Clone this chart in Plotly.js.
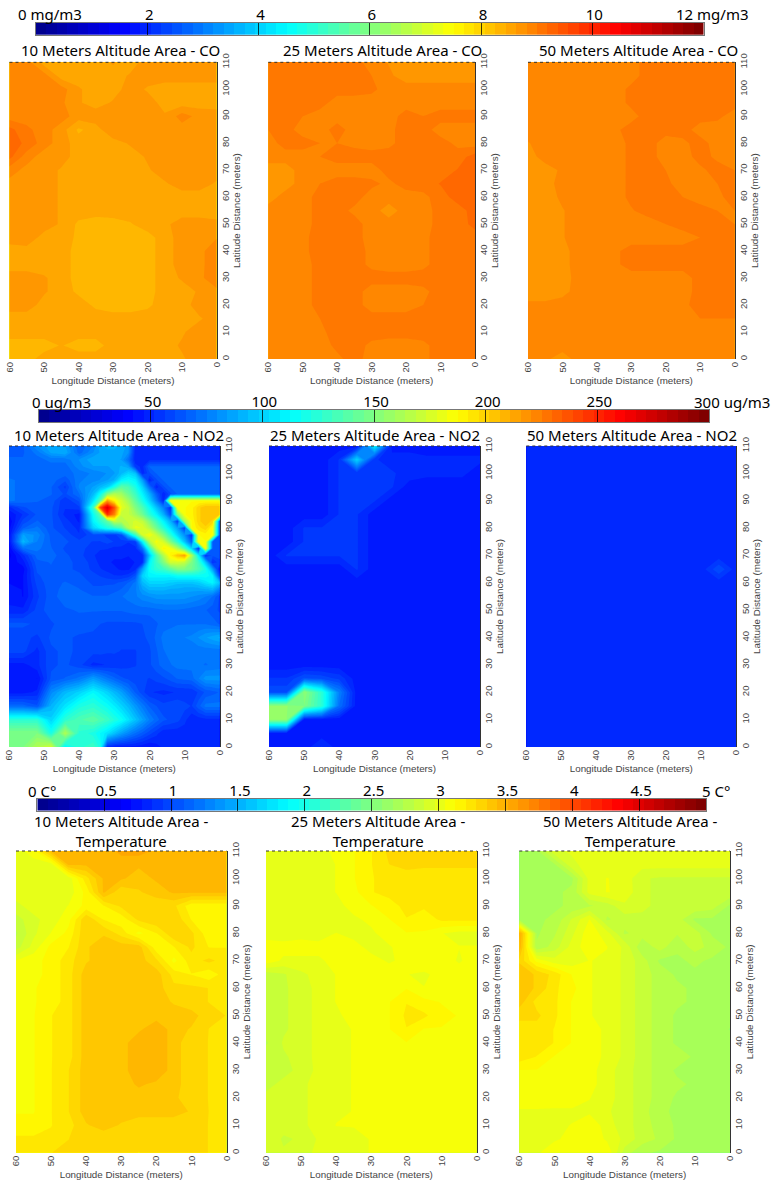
<!DOCTYPE html>
<html><head><meta charset="utf-8">
<script src="https://cdn.plot.ly/plotly-3.0.1.min.js"></script>
<style>html,body{margin:0;padding:0;background:#fff}</style></head>
<body><div id="chart" style="width:774px;height:1185px"></div>
<script>
const lonGrid=[60,55,50,45,40,35,30,25,20,15,10,5,0];
const latGrid=[110,105,100,95,90,85,80,75,70,65,60,55,50,45,40,35,30,25,20,15,10,5,0];
const lonFine=[60,56,52,48,44,40,36,34,32,30,28,26,24,22,20,18,16,14,12,10,8,6,4,2,0];
const latFine=[110,107.5,105,102.5,100,97.5,95,92.5,90,87.5,85,82.5,80,77.5,75,72.5,70,67.5,65,62.5,60,57.5,55,50,45,40,35,30,25,20,15,10,5,0];

const co10=[
[8.9,8.9,8.53,8.53,8.53,8.53,8.65,8.53,8.72,8.72,8.72,8.72,8.72],
[8.9,8.9,8.9,8.53,8.53,8.53,8.53,8.65,8.72,8.72,8.72,8.72,8.72],
[8.9,8.9,8.9,8.9,8.65,8.53,8.53,8.72,8.6,8.53,8.53,8.53,8.53],
[8.9,8.9,8.9,8.85,8.65,8.53,8.65,8.72,8.72,8.55,8.53,8.53,8.53],
[8.9,8.9,8.9,8.9,8.72,8.75,8.72,8.72,8.72,8.65,8.9,8.75,8.72],
[9.25,9.05,8.9,8.72,8.4,8.53,8.8,8.72,8.72,8.72,8.72,8.72,8.72],
[9.28,9.15,8.9,8.72,8.53,8.53,8.53,8.65,8.75,8.72,8.72,8.72,8.72],
[9.25,8.9,8.72,8.72,8.53,8.53,8.53,8.53,8.65,8.72,8.72,8.72,8.72],
[8.9,8.75,8.72,8.6,8.53,8.53,8.53,8.53,8.6,8.72,8.72,8.72,8.72],
[8.75,8.75,8.72,8.6,8.53,8.53,8.53,8.53,8.53,8.6,8.72,8.72,8.6],
[8.8,8.8,8.72,8.6,8.53,8.53,8.53,8.53,8.53,8.53,8.53,8.53,8.53],
[8.75,8.8,8.72,8.6,8.53,8.53,8.53,8.53,8.53,8.53,8.53,8.53,8.45],
[8.75,8.8,8.72,8.6,8.4,8.33,8.36,8.42,8.53,8.58,8.72,8.72,8.72],
[8.72,8.75,8.55,8.53,8.4,8.33,8.33,8.33,8.36,8.53,8.72,8.72,8.8],
[8.53,8.55,8.53,8.53,8.36,8.33,8.33,8.33,8.36,8.53,8.72,8.75,8.95],
[8.53,8.53,8.53,8.53,8.36,8.33,8.33,8.33,8.36,8.53,8.72,8.75,8.95],
[8.72,8.72,8.65,8.53,8.36,8.33,8.33,8.33,8.36,8.53,8.65,8.75,8.98],
[8.72,8.72,8.65,8.53,8.4,8.33,8.33,8.33,8.36,8.53,8.53,8.65,8.75],
[8.72,8.72,8.55,8.53,8.53,8.4,8.33,8.33,8.4,8.53,8.53,8.72,8.72],
[8.53,8.53,8.53,8.53,8.53,8.53,8.53,8.53,8.53,8.53,8.53,8.6,8.72],
[8.53,8.53,8.53,8.53,8.53,8.53,8.53,8.53,8.53,8.53,8.6,8.72,8.72],
[8.35,8.35,8.35,8.45,8.35,8.35,8.53,8.55,8.55,8.55,8.65,8.72,8.72],
[8.35,8.35,8.53,8.6,8.55,8.55,8.6,8.55,8.55,8.55,8.6,8.72,8.72]];

const co25=[
[9.09,9.09,9.09,9.09,9.09,9.09,8.9,8.8,8.72,8.72,8.72,8.72,8.72],
[9.09,9.09,9.09,9.09,9.09,9.09,9.0,8.85,8.72,8.72,8.72,8.72,8.72],
[9.09,9.09,9.09,9.09,9.09,9.09,9.05,8.9,8.9,8.9,8.9,8.9,8.9],
[9.09,9.09,9.09,9.09,8.9,8.9,8.9,8.9,8.9,8.9,8.9,8.9,8.9],
[9.09,9.09,9.0,8.9,8.9,8.9,8.9,8.9,9.09,9.0,9.09,9.09,9.09],
[9.0,9.09,8.9,8.9,9.09,8.9,8.9,8.95,9.09,9.09,8.9,8.9,8.9],
[8.9,9.09,9.09,9.0,9.0,8.95,8.9,8.95,9.09,9.09,9.09,8.95,8.9],
[8.9,8.9,8.9,9.0,9.09,9.09,9.09,9.09,9.09,9.09,9.09,9.09,9.28],
[8.72,8.72,8.9,8.9,8.9,8.9,8.9,9.09,9.09,9.09,9.09,9.2,9.28],
[8.72,8.72,8.9,9.0,9.09,9.09,9.05,8.95,9.09,9.09,9.2,9.2,9.28],
[8.72,8.9,8.9,9.09,9.09,9.09,8.9,8.9,8.9,8.95,9.09,9.28,9.28],
[8.9,8.9,8.9,9.09,9.09,8.95,8.9,8.72,8.9,8.9,9.09,9.09,9.28],
[8.9,8.9,8.9,9.09,9.09,9.09,8.9,8.9,8.9,8.9,9.09,9.09,9.25],
[8.9,8.9,8.95,9.09,9.09,9.09,8.9,8.9,8.9,8.95,9.09,9.09,9.09],
[8.9,8.9,8.95,9.09,9.09,9.09,8.95,8.9,8.9,8.95,9.09,9.09,9.09],
[8.9,8.9,8.9,9.09,9.09,9.09,8.95,8.9,8.9,8.95,9.09,9.09,9.09],
[8.9,8.9,8.9,9.09,9.09,9.09,9.09,9.09,9.09,9.09,9.09,9.09,9.09],
[8.9,8.9,8.9,9.09,9.09,9.09,8.9,8.9,8.9,8.95,9.09,9.09,9.09],
[8.9,8.9,8.9,9.09,9.09,9.09,8.9,8.9,8.9,9.0,9.09,9.09,9.09],
[8.9,8.9,8.9,9.0,9.09,9.09,9.09,9.09,9.09,9.09,9.09,9.09,9.09],
[8.9,8.9,8.9,8.95,9.09,9.09,9.09,9.09,9.09,9.09,9.09,9.09,9.09],
[8.9,8.9,8.9,8.9,9.05,9.09,8.95,8.9,8.9,8.95,9.09,9.09,9.09],
[8.9,8.9,8.9,8.9,8.95,9.09,8.9,8.9,8.9,8.95,9.09,9.09,9.09]];

const co50=[
[8.9,8.9,8.9,8.9,8.9,8.9,8.92,9.09,9.09,9.09,9.09,9.09,9.09],
[8.9,8.9,8.9,8.9,8.9,8.9,8.92,9.09,9.09,9.09,9.09,9.09,9.09],
[8.9,8.9,8.9,8.9,8.9,8.9,9.05,9.09,9.09,9.09,9.09,9.09,9.09],
[8.9,8.9,8.9,8.9,8.9,8.9,9.05,9.09,9.09,9.09,9.09,9.09,9.09],
[8.9,8.9,8.9,8.9,8.9,8.9,8.93,9.09,9.09,9.09,9.09,9.05,8.9],
[8.9,8.9,8.9,8.9,8.9,8.95,9.09,9.09,9.09,9.09,8.9,8.9,8.9],
[8.8,8.9,8.9,8.9,8.9,8.9,9.05,9.09,8.9,8.95,9.09,8.9,8.9],
[8.72,8.9,8.9,8.9,8.9,8.9,9.05,9.09,8.9,8.9,9.09,8.95,8.9],
[8.72,8.72,8.85,8.9,8.9,8.9,9.05,9.09,9.0,8.9,8.95,9.09,9.0],
[8.72,8.72,8.9,8.9,8.9,8.9,9.05,9.09,9.05,8.9,8.9,9.0,9.09],
[8.72,8.72,8.85,8.9,8.9,8.9,9.05,9.09,9.09,9.0,8.9,8.95,9.09],
[8.72,8.72,8.8,8.9,8.9,8.9,8.98,9.09,9.09,9.09,9.09,9.0,9.0],
[8.72,8.72,8.8,8.9,8.9,8.9,8.9,8.9,9.0,9.09,9.09,9.09,9.0],
[8.72,8.72,8.8,8.9,8.9,8.9,8.9,8.9,8.9,8.9,9.0,9.09,9.09],
[8.72,8.72,8.75,8.9,8.9,8.95,9.09,9.09,9.09,9.09,9.09,9.09,9.09],
[8.72,8.72,8.75,8.9,8.9,8.95,9.09,9.09,9.09,9.09,9.09,9.09,9.09],
[8.72,8.72,8.72,8.9,8.9,8.9,8.9,8.9,8.9,8.9,9.09,9.09,9.09],
[8.72,8.72,8.75,8.9,8.9,8.9,8.9,8.9,8.9,8.9,9.09,9.09,9.09],
[8.85,8.85,8.9,8.9,8.9,8.9,8.9,8.9,8.9,8.95,9.09,9.09,9.09],
[8.9,8.9,8.9,8.9,8.9,8.9,8.9,8.9,8.9,8.9,9.0,9.0,9.0],
[8.9,8.9,8.9,8.9,8.9,8.9,8.9,8.9,8.9,8.9,8.9,8.9,8.9],
[8.9,8.9,8.9,8.9,8.9,8.9,8.9,8.9,8.9,8.9,8.9,8.9,8.9],
[8.9,8.85,8.72,8.9,8.9,8.9,8.9,8.9,8.9,8.9,8.9,8.9,8.9]];

const no210=[
[65,65,80,88,85,66,75,88,90,90,88,82,50,50,50,50,50,50,50,50,50,50,50,50,50],
[65,65,72,85,88,68,80,85,88,88,86,80,48,48,48,50,50,50,50,50,50,50,50,50,50],
[66,66,68,72,72,80,88,88,88,86,84,70,48,50,50,50,50,50,50,50,50,50,50,50,50],
[66,66,66,68,68,78,84,84,84,86,90,85,54,50,66,66,66,66,66,66,66,66,66,66,66],
[66,66,66,68,68,72,76,78,80,84,92,102,95,48,60,66,66,66,66,66,66,66,66,66,66],
[72,68,68,68,62,74,78,80,84,90,110,115,110,85,48,60,66,66,66,66,66,66,66,66,66],
[72,68,68,66,55,76,85,92,100,120,140,135,120,100,70,48,60,66,66,66,66,66,66,66,66],
[72,68,68,66,60,70,92,115,150,165,160,145,130,110,90,65,48,60,66,66,66,66,66,66,66],
[72,68,66,64,52,62,105,140,215,190,175,160,140,120,100,75,48,187,187,187,187,187,187,187,187],
[50,60,64,62,52,55,130,240,275,240,180,170,150,135,115,95,75,50,187,187,190,200,206,206,206],
[42,52,62,62,50,45,115,140,250,225,170,170,160,145,125,110,90,60,150,187,190,200,206,206,206],
[38,58,66,62,54,46,110,125,140,170,165,170,175,170,150,130,110,90,55,160,187,200,206,200,65],
[40,65,72,62,56,50,100,110,120,125,135,165,180,178,165,145,125,105,85,55,187,195,200,187,65],
[42,85,78,64,60,52,60,58,55,55,60,95,130,175,185,170,150,125,100,80,52,187,190,187,65],
[42,92,75,65,62,58,56,56,58,56,55,52,55,110,165,185,175,150,125,95,65,187,187,65,65],
[38,70,72,66,60,58,54,52,52,50,50,48,50,70,125,170,190,185,165,135,100,50,187,65,65],
[35,50,68,68,62,58,52,50,48,48,48,47,47,50,95,135,165,190,205,215,165,110,50,62,62],
[38,45,64,66,62,60,54,50,48,46,46,46,47,50,110,130,150,175,175,170,150,130,95,50,60],
[40,40,62,65,62,60,55,52,50,48,46,46,50,85,115,125,130,140,150,150,145,135,120,85,45],
[42,42,60,64,64,62,58,56,54,52,52,54,62,100,110,110,110,110,115,115,115,115,115,110,60],
[42,42,58,64,66,64,60,60,60,60,62,66,72,92,100,100,100,98,95,95,95,98,105,110,95],
[44,42,56,64,67,66,62,62,63,64,66,70,74,84,90,90,90,88,88,86,86,86,88,90,75],
[45,42,55,64,68,68,66,66,66,68,70,72,74,78,80,82,82,82,82,82,80,78,75,70,60],
[48,48,58,64,65,66,66,66,66,66,66,67,68,68,68,69,70,70,70,69,68,67,66,63,60],
[62,62,60,60,64,64,62,61,60,60,60,60,60,61,62,65,68,69,70,70,70,70,70,68,65],
[58,58,55,62,62,60,60,59,58,58,58,58,58,60,62,67,72,73,74,75,76,80,84,87,90],
[58,58,50,60,62,60,58,58,57,57,56,56,56,58,60,65,70,72,74,73,72,72,72,72,72],
[45,45,50,60,62,58,50,51,52,53,54,55,56,58,60,64,68,70,72,72,72,71,70,71,72],
[45,45,42,62,66,72,84,78,72,67,62,60,58,57,56,58,60,63,66,67,68,75,82,82,82],
[45,45,48,78,92,100,112,106,100,92,85,75,65,58,52,51,50,51,52,52,52,57,62,64,66],
[68,68,62,90,105,120,125,120,115,108,100,92,82,73,65,61,58,59,60,58,56,64,72,72,72],
[125,125,125,100,125,135,140,135,130,122,115,105,95,85,75,68,62,60,58,53,48,49,50,50,50],
[150,150,150,120,165,125,120,112,105,95,85,77,70,64,58,53,48,48,48,49,50,50,50,50,50],
[150,150,165,175,110,125,130,120,50,46,45,45,45,44,42,45,48,49,50,50,50,50,50,50,50]];

const no225=[
[44,44,44,44,44,44,110,44,44,44,44,44,44],
[44,44,44,44,52,100,52,50,50,48,48,48,48],
[44,44,44,44,52,52,52,52,50,48,48,48,44],
[44,44,44,44,52,52,52,52,44,44,44,44,44],
[44,44,44,44,52,52,52,44,44,44,44,44,44],
[44,44,44,44,52,52,44,44,44,44,44,44,44],
[44,44,52,52,52,52,44,44,44,44,44,44,44],
[44,44,52,52,52,52,44,44,44,44,44,44,44],
[44,52,52,52,52,52,44,44,44,44,44,44,44],
[44,44,44,44,44,52,44,44,44,44,44,44,44],
[44,44,44,44,44,44,44,44,44,44,44,44,44],
[44,44,44,44,44,44,44,44,44,44,44,44,44],
[44,44,44,44,44,44,44,44,44,44,44,44,44],
[44,44,44,44,44,44,44,44,44,44,44,44,44],
[44,44,44,44,44,44,44,44,44,44,44,44,44],
[44,44,44,44,44,44,44,44,44,44,44,44,44],
[44,44,44,44,44,44,44,44,44,44,44,44,44],
[52,52,62,60,55,44,44,44,44,44,44,44,44],
[60,60,155,125,75,44,44,44,44,44,44,44,44],
[155,155,150,125,70,44,44,44,44,44,44,44,44],
[155,155,44,44,44,44,44,44,44,44,44,44,44],
[44,44,44,44,44,44,44,44,44,44,44,44,44],
[44,44,44,52,44,44,44,44,44,44,44,44,44]];

const no250=[
[49,49,49,49,49,49,49,49,49,49,49,49,49],
[49,49,49,49,49,49,49,49,49,49,49,49,49],
[49,49,49,49,49,49,49,49,49,49,49,49,49],
[49,49,49,49,49,49,49,49,49,49,49,49,49],
[49,49,49,49,49,49,49,49,49,49,49,49,49],
[49,49,49,49,49,49,49,49,49,49,49,49,49],
[49,49,49,49,49,49,49,49,49,49,49,49,49],
[49,49,49,49,49,49,49,49,49,49,49,49,49],
[49,49,49,49,49,49,49,49,49,49,49,49,49],
[49,49,49,49,49,49,49,49,49,49,49,60,49],
[49,49,49,49,49,49,49,49,49,49,49,49,49],
[49,49,49,49,49,49,49,49,49,49,49,49,49],
[49,49,49,49,49,49,49,49,49,49,49,49,49],
[49,49,49,49,49,49,49,49,49,49,49,49,49],
[49,49,49,49,49,49,49,49,49,49,49,49,49],
[49,49,49,49,49,49,49,49,49,49,49,49,49],
[49,49,49,49,49,49,49,49,49,49,49,49,49],
[49,49,49,49,49,49,49,49,49,49,49,49,49],
[49,49,49,49,49,49,49,49,49,49,49,49,49],
[49,49,49,49,49,49,49,49,49,49,49,49,49],
[49,49,49,49,49,49,49,49,49,49,49,49,49],
[49,49,49,49,49,49,49,49,49,49,49,49,49],
[49,49,49,49,49,49,49,49,49,49,49,49,49]];

const t10=[
[3.0,3.1,3.45,3.45,3.45,3.45,3.55,3.55,3.5,3.45,3.45,3.45,3.45],
[3.0,3.0,3.0,3.45,3.45,3.45,3.45,3.45,3.45,3.45,3.45,3.45,3.45],
[3.0,3.0,3.0,3.0,3.25,3.45,3.45,3.4,3.45,3.45,3.45,3.45,3.45],
[3.0,3.0,3.0,3.0,3.15,3.45,3.3,3.35,3.4,3.45,3.45,3.45,3.45],
[2.95,3.0,3.0,3.05,3.15,3.2,3.3,3.35,3.3,3.3,3.15,3.15,3.15],
[2.85,2.95,3.0,3.1,3.35,3.2,3.15,3.3,3.35,3.35,3.2,3.15,3.15],
[2.8,2.95,3.05,3.15,3.35,3.35,3.25,3.1,3.2,3.35,3.3,3.15,3.15],
[2.85,3.0,3.15,3.2,3.35,3.4,3.4,3.4,3.15,3.2,3.3,3.2,3.2],
[3.05,3.1,3.15,3.25,3.35,3.4,3.4,3.4,3.3,3.1,3.25,3.3,3.25],
[3.1,3.1,3.15,3.25,3.4,3.4,3.4,3.4,3.4,3.25,3.2,3.15,3.25],
[3.12,3.12,3.15,3.25,3.4,3.4,3.4,3.4,3.4,3.3,3.3,3.28,3.28],
[3.12,3.12,3.15,3.25,3.4,3.4,3.4,3.4,3.4,3.35,3.3,3.28,3.28],
[3.12,3.12,3.2,3.25,3.4,3.4,3.4,3.4,3.4,3.4,3.4,3.3,3.28],
[3.12,3.12,3.2,3.25,3.4,3.4,3.4,3.42,3.5,3.4,3.35,3.28,3.28],
[3.12,3.12,3.2,3.25,3.4,3.4,3.4,3.5,3.5,3.4,3.3,3.28,3.28],
[3.12,3.12,3.2,3.25,3.4,3.4,3.4,3.5,3.5,3.4,3.3,3.28,3.28],
[3.12,3.12,3.2,3.28,3.4,3.4,3.4,3.5,3.5,3.4,3.3,3.28,3.28],
[3.12,3.12,3.2,3.28,3.4,3.4,3.4,3.45,3.42,3.4,3.3,3.28,3.28],
[3.12,3.12,3.2,3.28,3.4,3.4,3.4,3.4,3.4,3.38,3.3,3.28,3.28],
[3.12,3.12,3.2,3.28,3.4,3.4,3.4,3.4,3.4,3.4,3.35,3.28,3.28],
[3.15,3.15,3.2,3.25,3.35,3.4,3.35,3.3,3.3,3.3,3.3,3.28,3.28],
[3.22,3.22,3.22,3.28,3.35,3.3,3.3,3.3,3.3,3.35,3.3,3.28,3.28],
[3.22,3.22,3.28,3.3,3.3,3.3,3.3,3.28,3.3,3.3,3.3,3.28,3.28]];

const t25=[
[3.0,3.0,3.0,3.0,3.08,3.12,3.2,3.3,3.3,3.3,3.3,3.3,3.3],
[3.0,3.0,3.0,3.0,3.05,3.12,3.2,3.28,3.3,3.3,3.3,3.3,3.3],
[3.0,3.0,3.0,3.0,3.05,3.12,3.2,3.22,3.25,3.22,3.22,3.22,3.22],
[3.0,3.0,3.0,3.0,3.05,3.1,3.2,3.22,3.22,3.22,3.22,3.22,3.22],
[3.0,3.0,3.0,3.0,3.0,3.1,3.12,3.18,3.22,3.22,3.22,3.22,3.22],
[3.0,3.0,3.0,3.0,3.0,3.02,3.08,3.12,3.2,3.15,3.22,3.22,3.22],
[3.0,3.0,3.02,3.0,3.05,3.0,3.02,3.12,3.12,3.12,3.05,3.02,3.02],
[3.1,3.08,3.08,3.08,3.1,3.1,3.0,3.03,3.12,3.12,3.12,3.05,3.05],
[3.1,3.03,3.03,3.03,3.08,3.1,3.1,3.03,3.08,3.12,3.12,3.03,3.12],
[2.85,2.88,2.95,3.0,3.05,3.08,3.12,3.12,3.05,3.03,3.08,3.12,3.12],
[2.85,2.88,2.92,3.0,3.05,3.08,3.12,3.12,3.12,3.05,3.12,3.12,3.12],
[2.88,2.88,2.92,3.0,3.05,3.08,3.12,3.12,3.2,3.15,3.12,3.12,3.12],
[2.88,2.88,2.92,3.0,3.03,3.08,3.12,3.12,3.22,3.22,3.15,3.12,3.12],
[2.85,2.88,2.92,3.0,3.03,3.05,3.12,3.12,3.2,3.12,3.12,3.12,3.12],
[2.8,2.9,2.92,3.0,3.03,3.05,3.1,3.12,3.12,3.12,3.12,3.12,3.12],
[2.88,2.88,2.92,3.0,3.03,3.05,3.08,3.12,3.12,3.12,3.12,3.12,3.12],
[2.88,2.88,2.9,3.0,3.03,3.05,3.08,3.12,3.12,3.12,3.12,3.12,3.12],
[2.88,2.9,2.95,3.0,3.03,3.05,3.08,3.1,3.12,3.12,3.12,3.12,3.12],
[2.9,2.9,2.95,3.0,3.03,3.05,3.08,3.1,3.12,3.12,3.12,3.12,3.12],
[2.9,2.9,2.95,3.0,3.03,3.05,3.08,3.08,3.12,3.12,3.12,3.12,3.12],
[2.9,2.92,2.95,3.0,3.05,3.05,3.08,3.08,3.12,3.12,3.12,3.12,3.12],
[2.95,2.88,2.9,2.98,3.0,3.03,3.05,3.08,3.12,3.12,3.12,3.12,3.12],
[2.9,2.9,2.92,3.0,3.03,3.03,3.05,3.08,3.12,3.12,3.12,3.12,3.12]];

const t50=[
[2.72,2.72,2.95,2.98,3.0,3.0,3.0,3.0,3.0,3.0,3.0,3.0,3.0],
[2.72,2.72,2.72,2.95,3.0,3.0,3.0,3.0,3.0,3.0,3.0,3.0,3.0],
[2.72,2.72,2.72,2.72,3.0,3.05,3.02,2.9,2.88,2.88,2.88,2.88,2.88],
[2.72,2.72,2.72,2.75,3.0,3.05,3.03,2.9,2.88,2.88,2.88,2.88,2.88],
[2.72,2.72,2.72,2.75,2.8,2.85,2.95,2.9,2.88,2.88,2.88,2.85,2.72],
[2.72,2.72,2.75,2.9,3.05,2.8,2.85,2.88,2.88,2.85,2.72,2.72,2.72],
[3.55,2.72,2.8,2.95,3.1,3.0,2.8,2.85,2.88,2.82,2.85,2.72,2.72],
[3.5,2.75,2.85,3.0,3.1,3.05,2.95,2.75,2.85,2.75,2.85,2.78,2.72],
[3.35,3.1,3.0,3.0,3.05,3.03,2.95,2.85,2.72,2.72,2.75,2.72,2.72],
[3.4,3.35,3.25,3.12,3.05,3.03,2.95,2.85,2.78,2.72,2.72,2.72,2.72],
[3.4,3.35,3.22,3.15,3.05,3.03,2.95,2.85,2.78,2.75,2.72,2.72,2.72],
[3.4,3.25,3.22,3.12,3.05,3.03,2.95,2.85,2.78,2.75,2.72,2.72,2.72],
[3.3,3.3,3.22,3.12,3.05,3.03,2.95,2.85,2.78,2.72,2.72,2.72,2.72],
[3.25,3.25,3.2,3.12,3.08,3.03,2.95,2.85,2.78,2.72,2.72,2.72,2.65],
[3.25,3.25,3.2,3.12,3.08,3.03,2.95,2.85,2.78,2.72,2.72,2.72,2.72],
[3.25,3.2,3.12,3.12,3.08,3.03,2.95,2.85,2.78,2.78,2.72,2.72,2.72],
[3.12,3.12,3.12,3.12,3.08,3.0,2.93,2.85,2.78,2.72,2.72,2.72,2.72],
[3.12,3.12,3.12,3.12,3.08,3.0,2.93,2.85,2.78,2.75,2.72,2.72,2.72],
[3.12,3.12,3.1,3.1,3.05,3.0,2.93,2.85,2.78,2.72,2.72,2.72,2.72],
[3.03,3.03,3.03,3.03,3.03,2.98,2.93,2.85,2.75,2.72,2.72,2.72,2.72],
[3.03,3.03,3.03,3.05,3.12,3.0,2.93,2.85,2.78,2.72,2.72,2.72,2.72],
[3.03,3.03,3.03,3.08,3.12,3.03,2.95,2.85,2.8,2.72,2.72,2.72,2.72],
[3.03,3.03,3.12,3.12,3.12,3.12,2.85,2.75,2.72,2.72,2.72,2.72,2.72]];

const rampLevels=[0,1,2,3,4,5,6,7,8,9,10,11,12,13,14,15,16,17,18,19,20,21,22,23,24,25,26,27,28,29,30,31,32,33,34,35,36,37,38,39,40,41,42,43,44,45,46,47,48,49,50,51,52,53,54,55,56,57,58,59,60,61,62,63];
const coTicks=[2,4,6,8,10];
const no2Ticks=[50,100,150,200,250];
const tempTicks=[0.5,1,1.5,2,2.5,3,3.5,4,4.5];

const W=774,H=1185;
const jet=[[0,'rgb(0,0,143)'],[0.125,'rgb(0,0,255)'],[0.375,'rgb(0,255,255)'],[0.625,'rgb(255,255,0)'],[0.875,'rgb(255,0,0)'],[1,'rgb(128,0,0)']];
const titleFont={family:'"Noto Sans",sans-serif',size:15,color:'#000'};
const tickFont={family:'"Liberation Sans",Arial,sans-serif',size:9.5,color:'#444'};
const axisTitleFont={family:'"Liberation Sans",Arial,sans-serif',size:9.8,color:'#444'};

const panels=[
 {z:co10,x:lonGrid,y:latGrid,max:12,box:[9.5,216.5,62.3,359],title:'10 Meters Altitude Area - CO',cx:120,cy:50},
 {z:co25,x:lonGrid,y:latGrid,max:12,box:[268.3,475,62.3,359],title:'25 Meters Altitude Area - CO',cx:382,cy:50},
 {z:co50,x:lonGrid,y:latGrid,max:12,box:[528,734.7,62.3,359],title:'50 Meters Altitude Area - CO',cx:638,cy:50},
 {z:no210,x:lonFine,y:latFine,max:300,box:[9,219.7,446,747],title:'10 Meters Altitude Area - NO2',cx:119,cy:435},
 {z:no225,x:lonGrid,y:latGrid,max:300,box:[269,480,446,747],title:'25 Meters Altitude Area - NO2',cx:375,cy:435},
 {z:no250,x:lonGrid,y:latGrid,max:300,box:[526.3,736.3,446,747],title:'50 Meters Altitude Area - NO2',cx:632,cy:435},
 {z:t10,x:lonGrid,y:latGrid,max:5,box:[16,226.5,851,1152.7],title:'10 Meters Altitude Area -<br>Temperature',cx:121,cy:831},
 {z:t25,x:lonGrid,y:latGrid,max:5,box:[266,476.7,851,1152.7],title:'25 Meters Altitude Area -<br>Temperature',cx:378,cy:831},
 {z:t50,x:lonGrid,y:latGrid,max:5,box:[519.3,730,851,1152.7],title:'50 Meters Altitude Area -<br>Temperature',cx:630,cy:831}
];
const bars=[
 {max:12,ticks:coTicks,box:[36,703.5,22.7,35],low:'0 mg/m3',lowX:50,high:'12 mg/m3',highX:712,ly:14},
 {max:300,ticks:no2Ticks,box:[39,709,410,422],low:'0 ug/m3',lowX:61,high:'300 ug/m3',highX:732,ly:402},
 {max:5,ticks:tempTicks,box:[37.3,706,798.7,810.7],low:'0 C°',lowX:42,high:'5 C°',highX:716,ly:791}
];

const data=[],shapes=[],annotations=[];
const layout={width:W,height:H,margin:{l:0,r:0,t:0,b:0},paper_bgcolor:'#fff',plot_bgcolor:'#fff',showlegend:false};
let n=0;
function dom(b){return {x:[b[0]/W,b[1]/W],y:[1-b[3]/H,1-b[2]/H]};}
panels.forEach(p=>{
 n++;const s=n===1?'':n,d=dom(p.box);
 data.push({type:'contour',x:p.x,y:p.y,z:p.z,xaxis:'x'+s,yaxis:'y'+s,zmin:0,zmax:p.max,colorscale:jet,showscale:false,
  autocontour:false,contours:{start:0,end:p.max,size:p.max/64,coloring:'fill',showlines:false},line:{width:0,smoothing:0},hoverinfo:'skip'});
 layout['xaxis'+s]={domain:d.x,anchor:'y'+s,range:[60,0],dtick:10,tick0:0,tickangle:-90,tickfont:tickFont,showgrid:false,zeroline:false,showline:false,ticks:'',
  title:{text:'Longitude Distance (meters)',font:axisTitleFont,standoff:5},automargin:false};
 layout['yaxis'+s]={domain:d.y,anchor:'x'+s,side:'right',range:[0,110],dtick:10,tick0:0,tickangle:-90,tickfont:tickFont,showgrid:false,zeroline:false,showline:true,linecolor:'#333',linewidth:1,ticks:'',
  title:{text:'Latitude Distance (meters)',font:axisTitleFont,standoff:2},automargin:false};
 shapes.push({type:'line',xref:'x'+s+' domain',yref:'y'+s+' domain',x0:0,x1:1,y0:1,y1:1,line:{color:'#333',width:1,dash:'dot'}});
 annotations.push({xref:'paper',yref:'paper',x:p.cx/W,y:1-p.cy/H,xanchor:'center',yanchor:'middle',showarrow:false,text:p.title,font:titleFont});
});
bars.forEach(b=>{
 n++;const s=n,d=dom(b.box),step=b.max/64;
 data.push({type:'heatmap',z:[rampLevels],x0:step/2,dx:step,y0:0,dy:1,xaxis:'x'+s,yaxis:'y'+s,zmin:0,zmax:63,colorscale:jet,showscale:false,hoverinfo:'skip'});
 layout['xaxis'+s]={domain:d.x,anchor:'y'+s,side:'top',range:[0,b.max],tickvals:b.ticks,ticktext:b.ticks.map(String),ticks:'inside',ticklen:12,tickwidth:1,tickcolor:'rgba(0,0,0,0.75)',tickfont:titleFont,showgrid:false,zeroline:false,showline:true,mirror:true,linecolor:'#777',linewidth:1,automargin:false,ticklabelstandoff:-4,ticklabelshift:2};
 layout['yaxis'+s]={domain:d.y,anchor:'x'+s,range:[-0.5,0.5],showticklabels:false,ticks:'',showgrid:false,zeroline:false,showline:true,mirror:true,linecolor:'#777',linewidth:1,automargin:false};
 [[b.low,b.lowX],[b.high,b.highX]].forEach(a=>annotations.push({xref:'paper',yref:'paper',x:a[1]/W,y:1-b.ly/H,xanchor:'center',yanchor:'middle',showarrow:false,text:a[0],font:titleFont}));
});
layout.shapes=shapes;layout.annotations=annotations;
Plotly.newPlot('chart',data,layout,{displayModeBar:false,staticPlot:true});
</script></body></html>
